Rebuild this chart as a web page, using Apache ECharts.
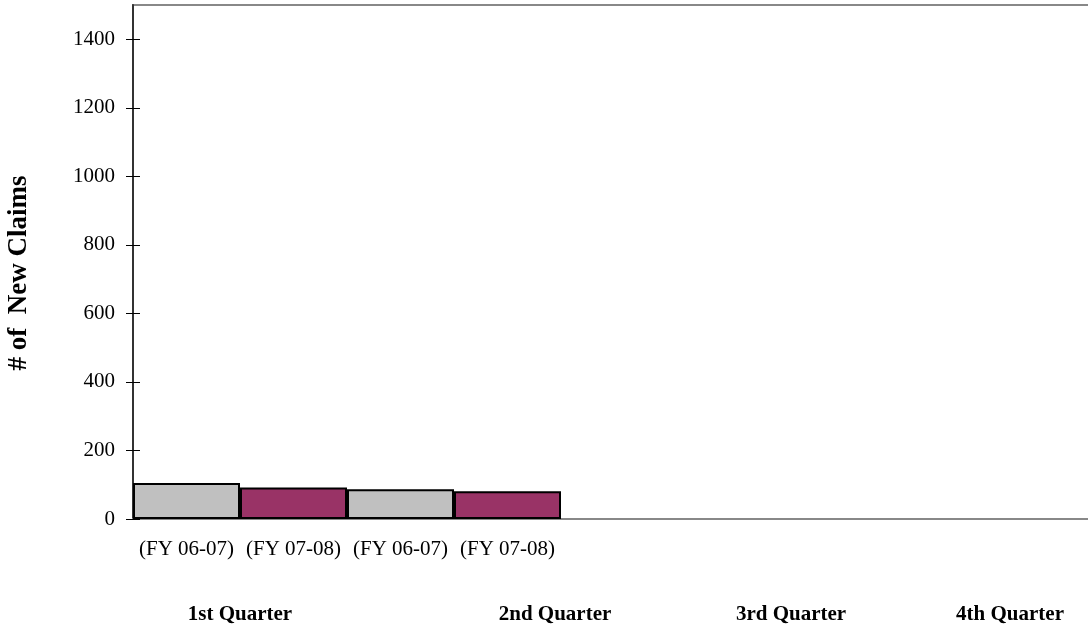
<!DOCTYPE html>
<html>
<head>
<meta charset="utf-8">
<script src="https://cdn.jsdelivr.net/npm/echarts@6/dist/echarts.min.js"></script>
<style>
  html, body { margin: 0; padding: 0; background: #fff; }
  #chart { width: 1088px; height: 624px; }
</style>
</head>
<body>
<div id="chart"></div>
<script>
const categories = ['(FY 06-07)', '(FY 07-08)', '(FY 06-07)', '(FY 07-08)', '', '', '', '', ''];
const fy0607 = [105, '-', 87, '-', '-', '-', '-', '-', '-'];
const fy0708 = ['-', 92, '-', 81, '-', '-', '-', '-', '-'];
const yTicks = [0, 200, 400, 600, 800, 1000, 1200, 1400];
const quarterLabels = ['1st Quarter', '2nd Quarter', '3rd Quarter', '4th Quarter'];
const yTitle = '# of  New Claims';

const FONT = 'Liberation Serif';
const chart = echarts.init(document.getElementById('chart'));

const quarterX = [240, 555, 791, 1010];

chart.setOption({
  animation: false,
  backgroundColor: '#ffffff',
  grid: {
    left: 133, top: 5, width: 963, height: 514,
    outerBoundsMode: 'none',
    containLabel: false,
    show: true, borderColor: '#888888', borderWidth: 2, backgroundColor: 'transparent'
  },
  xAxis: {
    type: 'category',
    data: categories,
    axisLine: { lineStyle: { color: '#888888', width: 2 } },
    axisTick: { show: false },
    axisLabel: { color: '#000', fontFamily: FONT, fontSize: 21, margin: 20, interval: 0 },
    splitLine: { show: false }
  },
  yAxis: [{
    type: 'value',
    min: 0, max: 1500,
    axisLine: { show: true, lineStyle: { color: '#333333', width: 2 } },
    axisTick: { show: true, length: 7, customValues: yTicks, lineStyle: { color: '#000', width: 1 } },
    axisLabel: { color: '#000', fontFamily: FONT, fontSize: 21, margin: 18, customValues: yTicks, formatter: v => String(v) },
    splitLine: { show: false },
    name: yTitle,
    nameLocation: 'middle',
    nameGap: 100,
    nameRotate: 90,
    nameTextStyle: { color: '#000', fontFamily: FONT, fontSize: 27, fontWeight: 'bold', padding: [0, 22, 0, 0] }
  }, {
    type: 'value',
    min: 0, max: 1500,
    position: 'left',
    axisLine: { show: false },
    axisTick: { show: true, inside: true, length: 7, customValues: yTicks, lineStyle: { color: '#000', width: 1 } },
    axisLabel: { show: false },
    splitLine: { show: false }
  }],
  series: [{
    name: 'FY 06-07',
    type: 'bar',
    stack: 'q',
    data: fy0607,
    barWidth: '100%',
    itemStyle: { color: '#C0C0C0', borderColor: '#000', borderWidth: 2 }
  }, {
    name: 'FY 07-08',
    type: 'bar',
    stack: 'q',
    data: fy0708,
    barWidth: '100%',
    itemStyle: { color: '#993366', borderColor: '#000', borderWidth: 2 }
  }],
  graphic: quarterLabels.map((t, i) => ({
    type: 'text',
    x: quarterX[i],
    y: 615,
    style: { text: t, fill: '#000', font: 'bold 21px "Liberation Serif"', textAlign: 'center', textVerticalAlign: 'middle' },
    z: 10
  }))
});
</script>
</body>
</html>
